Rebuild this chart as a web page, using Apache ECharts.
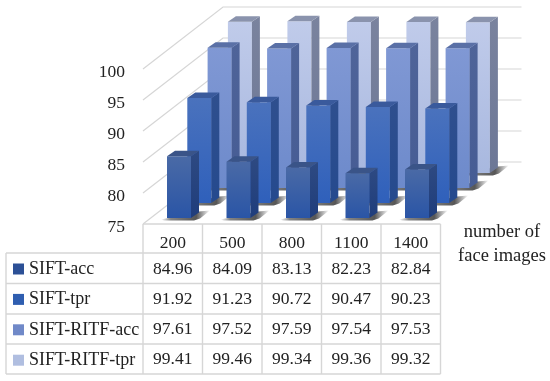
<!DOCTYPE html>
<html><head><meta charset="utf-8">
<style>html,body{margin:0;padding:0;background:#fff}#c{width:550px;height:381px}</style>
<script src="https://cdn.jsdelivr.net/npm/echarts@6/dist/echarts.min.js"></script>
</head><body><div id="c"></div>
<script>
const categories = ['200','500','800','1100','1400'];
const siftAcc = [84.96,84.09,83.13,82.23,82.84];
const siftTpr = [91.92,91.23,90.72,90.47,90.23];
const ritfAcc = [97.61,97.52,97.59,97.54,97.53];
const ritfTpr = [99.41,99.46,99.34,99.36,99.32];
const names = ['SIFT-acc','SIFT-tpr','SIFT-RITF-acc','SIFT-RITF-tpr'];
const rows = [siftAcc,siftTpr,ritfAcc,ritfTpr];
const ticks = [75,80,85,90,95,100];
const font = '"Liberation Serif","DejaVu Serif",serif';
const ink = '#222';
const gridCol = '#d6d6d6';
const faces = [
  ['#4a6aa6','#2a55a6','#2e4a82','#1f3d7c','#3a5488'],
  ['#4a72bd','#2f60bb','#2f4f8e','#254a8e','#3a5a9c'],
  ['#8098d4','#6d8acb','#4f6499','#465c94','#5a70a6'],
  ['#c0cbea','#a8b8df','#7a839e','#6c7796','#8a93ad']
];
const vGrad = (a,b)=>({type:'linear',x:0,y:0,x2:0,y2:1,colorStops:[{offset:0,color:a},{offset:1,color:b}]});
const legendCol = ['#2c5096','#2f5eb0','#7089c8','#b0bee0'];
const BAR_W=24, SIDE_DX=8, SIDE_DY=5.5, ROW_DX=20.3, ROW_DY=15, WALL_DX=80, WALL_DY=62;
const BAR_SHIFT=-5.75, BASE_LIFT=6;

function barRenderer(s){
  return function(params,api){
    const i=api.value(0), v=api.value(1);
    const t=api.coord([i,v]), b=api.coord([i,ticks[0]]);
    const x=t[0]+BAR_SHIFT+s*ROW_DX, yT=t[1]-BASE_LIFT-s*ROW_DY, yB=b[1]-BASE_LIFT-s*ROW_DY;
    const f=faces[s], xr=x+BAR_W;
    const shadow={type:'linear',x:0,y:0,x2:1,y2:0,colorStops:[
      {offset:0,color:'rgba(30,30,30,0)'},{offset:0.2,color:'rgba(30,30,30,0.55)'},
      {offset:0.72,color:'rgba(30,30,30,0.75)'},{offset:1,color:'rgba(30,30,30,0)'}]};
    return {type:'group',children:[
      {type:'polygon',shape:{points:[[x-6,yB+1.5],[xr+SIDE_DX,yB-SIDE_DY-1],[xr+SIDE_DX+11,yB-SIDE_DY-2],[xr+SIDE_DX+1,yB+0.5],[xr+3,yB+2.5],[x-3,yB+2.5]]},
        style:{fill:shadow}},
      {type:'rect',shape:{x:x,y:yT,width:BAR_W,height:yB-yT},style:{fill:vGrad(f[0],f[1])}},
      {type:'polygon',shape:{points:[[xr,yT],[xr+SIDE_DX,yT-SIDE_DY],[xr+SIDE_DX,yB-SIDE_DY],[xr,yB]]},style:{fill:vGrad(f[2],f[3])}},
      {type:'polygon',shape:{points:[[x,yT],[x+SIDE_DX,yT-SIDE_DY],[xr+SIDE_DX,yT-SIDE_DY],[xr,yT]]},style:{fill:f[4]}}
    ]};
  };
}
function wallRenderer(params,api){
  const p=api.coord([0,api.value(0)]), cs=params.coordSys, x0=cs.x, y=p[1];
  return {type:'polyline',shape:{points:[[x0,y],[x0+WALL_DX,y-WALL_DY],[x0+cs.width+WALL_DX+1,y-WALL_DY]]},
    style:{fill:'none',stroke:gridCol,lineWidth:1.2}};
}
function tableTextRenderer(params,api){
  const p=api.coord([api.value(0),ticks[0]]);
  return {type:'text',style:{x:p[0],y:269+30.3*api.value(2),text:api.value(1).toFixed(2),align:'center',verticalAlign:'middle',font:'17.5px '+font,fill:ink}};
}
const TX0=6, TX1=143, BAND=59.5, TYs=[224,253,283.5,314,344,374];
const tableLines=[];
for(let c=0;c<=categories.length;c++){const x=TX1+c*BAND;tableLines.push([x,TYs[0],x,TYs[5]]);}
tableLines.push([TX0,TYs[1],TX0,TYs[5]]);
TYs.forEach((y,k)=>tableLines.push([k===0?TX1:TX0,y,TX1+categories.length*BAND,y]));

const series=[{type:'custom',name:'walls',silent:true,z:1,data:ticks.map(t=>[t]),encode:{y:0},renderItem:wallRenderer,tooltip:{show:false}}];
for(let s=3;s>=0;s--){
  series.push({type:'custom',name:names[s],z:2+(3-s),itemStyle:{color:legendCol[s]},
    data:rows[s].map((v,i)=>[i,v]),encode:{x:0,y:1},renderItem:barRenderer(s)});
}
series.push({type:'custom',name:'table',silent:true,z:10,
  data:rows.flatMap((r,k)=>r.map((v,i)=>[i,v,k])),encode:{x:0,y:1},renderItem:tableTextRenderer});

const chart=echarts.init(document.getElementById('c'),null,{renderer:'canvas'});
chart.setOption({
  animation:false,backgroundColor:'#fff',
  grid:{left:TX1,top:69,width:BAND*categories.length,height:155,containLabel:false},
  xAxis:{type:'category',data:categories,axisLine:{show:false},axisTick:{show:false},splitLine:{show:false},
    axisLabel:{margin:10,fontFamily:font,fontSize:17.5,color:ink,interval:0}},
  yAxis:{type:'value',min:75,max:100,interval:5,axisLine:{show:false},axisTick:{show:false},splitLine:{show:false},
    axisLabel:{margin:18,fontFamily:font,fontSize:17.5,color:ink,verticalAlign:'top',lineHeight:6}},
  legend:{data:names,orient:'vertical',left:13,top:259.5,padding:0,itemWidth:11,itemHeight:11,itemGap:11.4,icon:'rect',selectedMode:false,
    textStyle:{fontFamily:font,fontSize:18,color:ink,lineHeight:19}},
  graphic:{elements:tableLines.map(l=>({type:'line',silent:true,shape:{x1:l[0],y1:l[1],x2:l[2],y2:l[3]},style:{stroke:gridCol,lineWidth:1.4}})).concat([
    {type:'text',silent:true,style:{x:502,y:244,text:'number of\nface images',align:'center',verticalAlign:'middle',font:'18.5px '+font,lineHeight:24,fill:ink}}
  ])},
  series:series
});
</script></body></html>
